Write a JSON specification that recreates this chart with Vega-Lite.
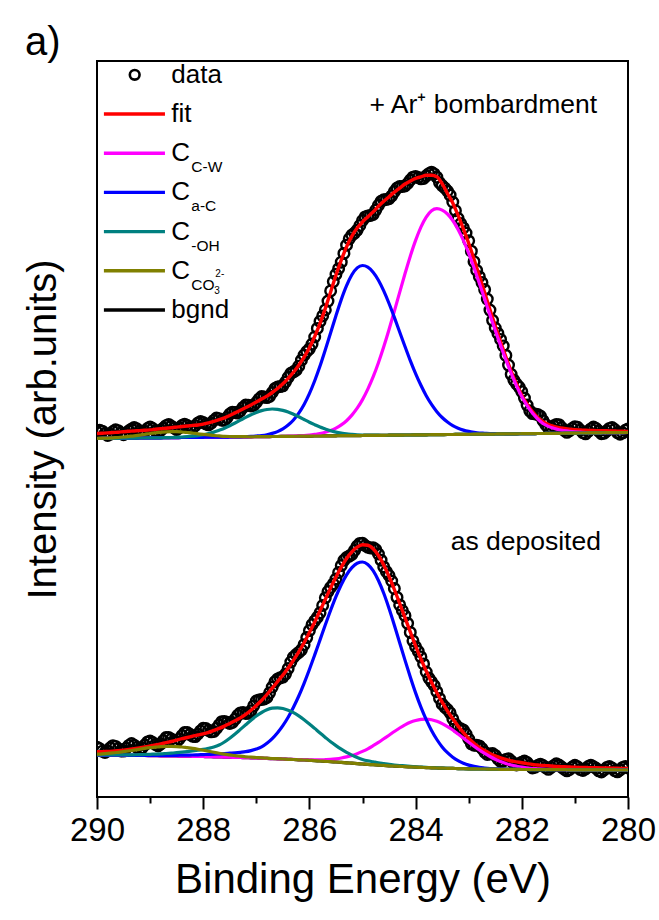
{
"$schema":"https://vega.github.io/schema/vega-lite/v6.json",
"width":531,"height":736,
"autosize":{"type":"none"},
"padding":{"left":97,"top":61,"right":31,"bottom":123},
"background":"white",
"config":{"font":"Liberation Sans","view":{"stroke":"#000000","strokeWidth":2},"axis":{"labelColor":"#000000","titleColor":"#000000","tickColor":"#000000"}},
"title":{"text":"a)","anchor":"start","frame":"group","orient":"top","offset":6,"dx":-72,"dy":40,"fontSize":40,"fontWeight":"normal","color":"#000000","baseline":"alphabetic"},
"datasets":{
"pts":[
{"x":290,"t":365.0,"b":49.8},{"x":289.95,"t":366.7,"b":48.3},{"x":289.9,"t":365.8,"b":45.8},{"x":289.85,"t":363.5,"b":44.5},{"x":289.8,"t":361.6,"b":46.1},{"x":289.75,"t":362.8,"b":49.2},{"x":289.7,"t":365.5,"b":51.3},{"x":289.65,"t":367.2,"b":50.6},{"x":289.6,"t":366.3,"b":48.3},{"x":289.55,"t":364.1,"b":46.1},
{"x":289.5,"t":362.3,"b":45.9},{"x":289.45,"t":363.5,"b":48.8},{"x":289.4,"t":366.2,"b":51.6},{"x":289.35,"t":367.9,"b":53.5},{"x":289.3,"t":369.5,"b":51.8},{"x":289.25,"t":368.2,"b":49.7},{"x":289.2,"t":365.9,"b":47.6},{"x":289.15,"t":364.6,"b":49.1},{"x":289.1,"t":365.7,"b":52.0},{"x":289.05,"t":368.4,"b":55.0},
{"x":289,"t":370.1,"b":56.0},{"x":288.95,"t":368.4,"b":54.5},{"x":288.9,"t":366.2,"b":52.5},{"x":288.85,"t":365.0,"b":51.1},{"x":288.8,"t":366.7,"b":53.1},{"x":288.75,"t":369.0,"b":56.3},{"x":288.7,"t":371.3,"b":59.4},{"x":288.65,"t":372.6,"b":59.5},{"x":288.6,"t":370.8,"b":58.0},{"x":288.55,"t":369.1,"b":56.2},
{"x":288.5,"t":367.4,"b":55.4},{"x":288.45,"t":369.2,"b":58.1},{"x":288.4,"t":371.5,"b":61.3},{"x":288.35,"t":372.8,"b":64.4},{"x":288.3,"t":371.5,"b":64.5},{"x":288.25,"t":369.8,"b":62.7},{"x":288.2,"t":369.1,"b":60.8},{"x":288.15,"t":371.3,"b":60.4},{"x":288.1,"t":374.0,"b":63.0},{"x":288.05,"t":375.5,"b":66.1},
{"x":288,"t":374.4,"b":68.7},{"x":287.95,"t":373.1,"b":68.5},{"x":287.9,"t":372.2,"b":66.7},{"x":287.85,"t":373.9,"b":65.2},{"x":287.8,"t":376.6,"b":65.6},{"x":287.75,"t":379.0,"b":68.6},{"x":287.7,"t":378.3,"b":72.1},{"x":287.65,"t":376.8,"b":75.3},{"x":287.6,"t":376.7,"b":75.4},{"x":287.55,"t":379.4,"b":74.8},
{"x":287.5,"t":383.0,"b":73.6},{"x":287.45,"t":384.8,"b":74.5},{"x":287.4,"t":384.6,"b":77.8},{"x":287.35,"t":383.9,"b":81.7},{"x":287.3,"t":386.2,"b":84.1},{"x":287.25,"t":389.6,"b":84.4},{"x":287.2,"t":391.9,"b":83.6},{"x":287.15,"t":391.8,"b":83.7},{"x":287.1,"t":391.1,"b":86.2},{"x":287.05,"t":391.6,"b":91.1},
{"x":287,"t":394.5,"b":96.0},{"x":286.95,"t":398.0,"b":97.1},{"x":286.9,"t":400.5,"b":97.6},{"x":286.85,"t":400.0,"b":98.1},{"x":286.8,"t":399.4,"b":99.5},{"x":286.75,"t":400.7,"b":104.2},{"x":286.7,"t":404.5,"b":109.9},{"x":286.65,"t":408.5,"b":115.2},{"x":286.6,"t":410.0,"b":117.9},{"x":286.55,"t":410.4,"b":119.2},
{"x":286.5,"t":411.2,"b":119.9},{"x":286.45,"t":415.0,"b":122.9},{"x":286.4,"t":419.7,"b":128.4},{"x":286.35,"t":423.7,"b":134.9},{"x":286.3,"t":425.2,"b":139.8},{"x":286.25,"t":426.8,"b":142.5},{"x":286.2,"t":430.8,"b":144.6},{"x":286.15,"t":436.8,"b":147.2},{"x":286.1,"t":441.8,"b":152.3},{"x":286.05,"t":445.5,"b":159.4},
{"x":286,"t":448.2,"b":166.4},{"x":285.95,"t":452.9,"b":172.3},{"x":285.9,"t":460.0,"b":176.1},{"x":285.85,"t":468.6,"b":179.7},{"x":285.8,"t":475.6,"b":184.2},{"x":285.75,"t":481.1,"b":191.5},{"x":285.7,"t":487.1,"b":199.2},{"x":285.65,"t":495.9,"b":205.4},{"x":285.6,"t":506.1,"b":209.6},{"x":285.55,"t":515.4,"b":213.1},
{"x":285.5,"t":522.7,"b":218.0},{"x":285.45,"t":528.3,"b":224.5},{"x":285.4,"t":534.8,"b":231.4},{"x":285.35,"t":543.6,"b":236.7},{"x":285.3,"t":551.8,"b":239.5},{"x":285.25,"t":558.1,"b":240.9},{"x":285.2,"t":561.9,"b":242.7},{"x":285.15,"t":563.9,"b":246.6},{"x":285.1,"t":566.9,"b":250.9},{"x":285.05,"t":571.5,"b":253.6},
{"x":285,"t":576.5,"b":253.7},{"x":284.95,"t":580.1,"b":251.5},{"x":284.9,"t":581.1,"b":249.8},{"x":284.85,"t":581.6,"b":249.1},{"x":284.8,"t":582.6,"b":249.3},{"x":284.75,"t":586.9,"b":247.4},{"x":284.7,"t":591.7,"b":243.0},{"x":284.65,"t":595.7,"b":236.8},{"x":284.6,"t":597.2,"b":230.1},{"x":284.55,"t":597.5,"b":225.3},
{"x":284.5,"t":598.3,"b":221.5},{"x":284.45,"t":601.1,"b":216.0},{"x":284.4,"t":605.4,"b":208.5},{"x":284.35,"t":608.9,"b":199.6},{"x":284.3,"t":610.4,"b":192.1},{"x":284.25,"t":610.5,"b":186.5},{"x":284.2,"t":611.0,"b":181.3},{"x":284.15,"t":613.5,"b":173.7},{"x":284.1,"t":617.0,"b":164.6},{"x":284.05,"t":619.8,"b":156.2},
{"x":284,"t":620.6,"b":150.2},{"x":283.95,"t":619.4,"b":145.7},{"x":283.9,"t":618.2,"b":140.1},{"x":283.85,"t":618.5,"b":133.1},{"x":283.8,"t":621.2,"b":125.0},{"x":283.75,"t":623.3,"b":118.9},{"x":283.7,"t":624.8,"b":115.2},{"x":283.65,"t":623.1,"b":111.5},{"x":283.6,"t":619.8,"b":105.3},{"x":283.55,"t":614.4,"b":98.6},
{"x":283.5,"t":611.4,"b":92.8},{"x":283.45,"t":609.0,"b":89.9},{"x":283.4,"t":606.0,"b":87.5},{"x":283.35,"t":601.8,"b":84.1},{"x":283.3,"t":595.0,"b":78.2},{"x":283.25,"t":586.3,"b":72.6},{"x":283.2,"t":578.6,"b":69.4},{"x":283.15,"t":573.4,"b":68.2},{"x":283.1,"t":569.1,"b":66.9},{"x":283.05,"t":563.9,"b":63.0},
{"x":283,"t":556.2,"b":58.0},{"x":282.95,"t":545.8,"b":53.2},{"x":282.9,"t":535.3,"b":51.8},{"x":282.85,"t":526.6,"b":51.7},{"x":282.8,"t":520.3,"b":51.1},{"x":282.75,"t":514.4,"b":48.5},{"x":282.7,"t":507.4,"b":44.9},{"x":282.65,"t":497.9,"b":42.5},{"x":282.6,"t":486.9,"b":43.1},{"x":282.55,"t":476.7,"b":43.4},
{"x":282.5,"t":469.0,"b":41.6},{"x":282.45,"t":463.6,"b":38.1},{"x":282.4,"t":457.6,"b":35.6},{"x":282.35,"t":451.1,"b":35.8},{"x":282.3,"t":441.6,"b":37.5},{"x":282.25,"t":431.9,"b":38.3},{"x":282.2,"t":422.7,"b":36.0},{"x":282.15,"t":416.9,"b":33.6},{"x":282.1,"t":413.0,"b":32.1},{"x":282.05,"t":409.9,"b":33.2},
{"x":282,"t":405.3,"b":34.8},{"x":281.95,"t":398.9,"b":35.9},{"x":281.9,"t":391.9,"b":34.4},{"x":281.85,"t":386.2,"b":31.5},{"x":281.8,"t":383.4,"b":29.0},{"x":281.75,"t":383.0,"b":29.8},{"x":281.7,"t":382.5,"b":31.5},{"x":281.65,"t":380.9,"b":32.8},{"x":281.6,"t":376.3,"b":31.5},{"x":281.55,"t":372.4,"b":29.4},
{"x":281.5,"t":369.0,"b":27.7},{"x":281.45,"t":369.6,"b":29.5},{"x":281.4,"t":371.2,"b":31.3},{"x":281.35,"t":372.5,"b":33.2},{"x":281.3,"t":372.3,"b":32.0},{"x":281.25,"t":369.4,"b":29.9},{"x":281.2,"t":366.5,"b":27.8},{"x":281.15,"t":364.7,"b":26.2},{"x":281.1,"t":366.3,"b":27.5},{"x":281.05,"t":368.6,"b":29.9},
{"x":281,"t":370.3,"b":31.7},{"x":280.95,"t":369.7,"b":30.2},{"x":280.9,"t":367.0,"b":27.6},{"x":280.85,"t":364.4,"b":26.6},{"x":280.8,"t":363.2,"b":28.0},{"x":280.75,"t":365.7,"b":30.4},{"x":280.7,"t":368.1,"b":31.8},{"x":280.65,"t":370.0,"b":30.3},{"x":280.6,"t":368.4,"b":28.7},{"x":280.55,"t":365.9,"b":26.2},
{"x":280.5,"t":363.3,"b":25.1},{"x":280.45,"t":363.8,"b":27.1},{"x":280.4,"t":366.2,"b":29.5},{"x":280.35,"t":368.6,"b":30.5},{"x":280.3,"t":369.5,"b":28.9},{"x":280.25,"t":367.5,"b":26.3},{"x":280.2,"t":364.4,"b":25.2},{"x":280.15,"t":362.8,"b":27.2},{"x":280.1,"t":364.2,"b":29.6},{"x":280.05,"t":366.7,"b":30.6},
{"x":280,"t":368.1,"b":29.0}
],
"comp":[
{"p":"t","x":290,"f":363.5,"w":358.5,"a":358.5,"o":358.5,"c":358.6,"g":358.5},
{"p":"t","x":289.9,"f":363.8,"w":358.6,"a":358.6,"o":358.6,"c":358.8,"g":358.6},
{"p":"t","x":289.8,"f":364.1,"w":358.6,"a":358.6,"o":358.6,"c":358.9,"g":358.6},
{"p":"t","x":289.7,"f":364.5,"w":358.7,"a":358.7,"o":358.7,"c":359.2,"g":358.7},
{"p":"t","x":289.6,"f":364.8,"w":358.7,"a":358.7,"o":358.7,"c":359.5,"g":358.7},
{"p":"t","x":289.5,"f":365.3,"w":358.8,"a":358.8,"o":358.8,"c":360.0,"g":358.8},
{"p":"t","x":289.4,"f":365.7,"w":358.9,"a":358.9,"o":358.9,"c":360.6,"g":358.9},
{"p":"t","x":289.3,"f":366.0,"w":358.9,"a":358.9,"o":358.9,"c":361.2,"g":358.9},
{"p":"t","x":289.2,"f":366.4,"w":359.0,"a":359.0,"o":359.0,"c":361.9,"g":359.0},
{"p":"t","x":289.1,"f":366.7,"w":359.0,"a":359.0,"o":359.0,"c":362.6,"g":359.0},
{"p":"t","x":289,"f":367.1,"w":359.1,"a":359.1,"o":359.1,"c":363.5,"g":359.1},
{"p":"t","x":288.9,"f":367.7,"w":359.2,"a":359.2,"o":359.2,"c":364.2,"g":359.2},
{"p":"t","x":288.8,"f":368.2,"w":359.2,"a":359.2,"o":359.2,"c":364.7,"g":359.2},
{"p":"t","x":288.7,"f":368.8,"w":359.3,"a":359.3,"o":359.4,"c":365.2,"g":359.3},
{"p":"t","x":288.6,"f":369.3,"w":359.3,"a":359.3,"o":359.5,"c":365.3,"g":359.3},
{"p":"t","x":288.5,"f":369.9,"w":359.4,"a":359.4,"o":359.7,"c":365.3,"g":359.4},
{"p":"t","x":288.4,"f":370.5,"w":359.5,"a":359.5,"o":360.0,"c":365.0,"g":359.5},
{"p":"t","x":288.3,"f":371.0,"w":359.5,"a":359.5,"o":360.3,"c":364.5,"g":359.5},
{"p":"t","x":288.2,"f":371.6,"w":359.6,"a":359.6,"o":360.8,"c":364.0,"g":359.6},
{"p":"t","x":288.1,"f":372.0,"w":359.6,"a":359.6,"o":361.4,"c":363.2,"g":359.6},
{"p":"t","x":288,"f":372.9,"w":359.7,"a":359.7,"o":362.3,"c":362.6,"g":359.7},
{"p":"t","x":287.9,"f":374.2,"w":359.8,"a":359.8,"o":363.5,"c":362.1,"g":359.8},
{"p":"t","x":287.8,"f":375.6,"w":359.8,"a":359.8,"o":364.9,"c":361.5,"g":359.8},
{"p":"t","x":287.7,"f":377.3,"w":359.9,"a":359.9,"o":366.8,"c":361.1,"g":359.9},
{"p":"t","x":287.6,"f":379.2,"w":359.9,"a":359.9,"o":368.8,"c":360.7,"g":359.9},
{"p":"t","x":287.5,"f":381.5,"w":360.0,"a":360.0,"o":371.3,"c":360.5,"g":360.0},
{"p":"t","x":287.4,"f":384.1,"w":360.1,"a":360.1,"o":374.0,"c":360.4,"g":360.1},
{"p":"t","x":287.3,"f":386.7,"w":360.1,"a":360.2,"o":376.8,"c":360.3,"g":360.1},
{"p":"t","x":287.2,"f":389.4,"w":360.2,"a":360.4,"o":379.6,"c":360.3,"g":360.2},
{"p":"t","x":287.1,"f":392.1,"w":360.2,"a":360.6,"o":382.2,"c":360.2,"g":360.2},
{"p":"t","x":287,"f":395.0,"w":360.3,"a":361.0,"o":384.6,"c":360.3,"g":360.3},
{"p":"t","x":286.9,"f":398.0,"w":360.4,"a":361.5,"o":386.4,"c":360.4,"g":360.4},
{"p":"t","x":286.8,"f":400.9,"w":360.4,"a":362.3,"o":387.5,"c":360.4,"g":360.4},
{"p":"t","x":286.7,"f":404.5,"w":360.5,"a":363.6,"o":388.0,"c":360.5,"g":360.5},
{"p":"t","x":286.6,"f":408.5,"w":360.5,"a":365.4,"o":387.6,"c":360.5,"g":360.5},
{"p":"t","x":286.5,"f":413.2,"w":360.6,"a":368.1,"o":386.6,"c":360.6,"g":360.6},
{"p":"t","x":286.4,"f":418.7,"w":360.8,"a":371.9,"o":385.0,"c":360.7,"g":360.7},
{"p":"t","x":286.3,"f":424.7,"w":360.9,"a":377.0,"o":382.7,"c":360.7,"g":360.7},
{"p":"t","x":286.2,"f":431.8,"w":361.2,"a":383.8,"o":380.2,"c":360.8,"g":360.8},
{"p":"t","x":286.1,"f":439.8,"w":361.4,"a":392.5,"o":377.5,"c":360.8,"g":360.8},
{"p":"t","x":286,"f":449.2,"w":361.9,"a":403.3,"o":374.8,"c":360.9,"g":360.9},
{"p":"t","x":285.9,"f":460.5,"w":362.6,"a":416.2,"o":372.3,"c":361.0,"g":361.0},
{"p":"t","x":285.8,"f":473.6,"w":363.4,"a":430.9,"o":369.9,"c":361.0,"g":361.0},
{"p":"t","x":285.7,"f":488.6,"w":364.7,"a":447.2,"o":368.0,"c":361.1,"g":361.1},
{"p":"t","x":285.6,"f":505.1,"w":366.4,"a":464.2,"o":366.2,"c":361.1,"g":361.1},
{"p":"t","x":285.5,"f":521.7,"w":368.8,"a":481.3,"o":364.9,"c":361.2,"g":361.2},
{"p":"t","x":285.4,"f":536.8,"w":372.1,"a":497.4,"o":363.9,"c":361.3,"g":361.3},
{"p":"t","x":285.3,"f":550.3,"w":376.3,"a":511.3,"o":363.1,"c":361.3,"g":361.3},
{"p":"t","x":285.2,"f":560.9,"w":381.9,"a":522.2,"o":362.6,"c":361.4,"g":361.4},
{"p":"t","x":285.1,"f":568.9,"w":388.8,"a":529.1,"o":362.2,"c":361.4,"g":361.4},
{"p":"t","x":285,"f":575.0,"w":397.4,"a":531.5,"o":362.0,"c":361.5,"g":361.5},
{"p":"t","x":284.9,"f":580.1,"w":407.9,"a":529.9,"o":361.9,"c":361.6,"g":361.6},
{"p":"t","x":284.8,"f":585.1,"w":420.1,"a":524.8,"o":361.8,"c":361.6,"g":361.6},
{"p":"t","x":284.7,"f":590.7,"w":434.3,"a":516.8,"o":361.8,"c":361.7,"g":361.7},
{"p":"t","x":284.6,"f":595.7,"w":450.2,"a":506.1,"o":361.7,"c":361.7,"g":361.7},
{"p":"t","x":284.5,"f":600.3,"w":467.5,"a":493.5,"o":361.8,"c":361.8,"g":361.8},
{"p":"t","x":284.4,"f":604.9,"w":485.9,"a":479.6,"o":361.9,"c":361.9,"g":361.9},
{"p":"t","x":284.3,"f":608.9,"w":504.6,"a":465.0,"o":361.9,"c":361.9,"g":361.9},
{"p":"t","x":284.2,"f":613.0,"w":523.2,"a":450.5,"o":362.0,"c":362.0,"g":362.0},
{"p":"t","x":284.1,"f":616.0,"w":540.8,"a":436.4,"o":362.0,"c":362.0,"g":362.0},
{"p":"t","x":284,"f":618.6,"w":556.6,"a":423.4,"o":362.1,"c":362.1,"g":362.1},
{"p":"t","x":283.9,"f":620.2,"w":569.9,"a":411.7,"o":362.2,"c":362.2,"g":362.2},
{"p":"t","x":283.8,"f":621.7,"w":579.9,"a":401.3,"o":362.2,"c":362.2,"g":362.2},
{"p":"t","x":283.7,"f":621.8,"w":586.2,"a":392.6,"o":362.3,"c":362.3,"g":362.3},
{"p":"t","x":283.6,"f":620.3,"w":588.3,"a":385.3,"o":362.3,"c":362.3,"g":362.3},
{"p":"t","x":283.5,"f":613.4,"w":586.9,"a":379.5,"o":362.4,"c":362.4,"g":362.4},
{"p":"t","x":283.4,"f":603.5,"w":583.0,"a":375.0,"o":362.5,"c":362.5,"g":362.5},
{"p":"t","x":283.3,"f":594.0,"w":576.5,"a":371.4,"o":362.5,"c":362.5,"g":362.5},
{"p":"t","x":283.2,"f":581.6,"w":567.6,"a":368.8,"o":362.6,"c":362.6,"g":362.6},
{"p":"t","x":283.1,"f":568.1,"w":556.6,"a":366.9,"o":362.6,"c":362.6,"g":362.6},
{"p":"t","x":283,"f":553.7,"w":543.7,"a":365.6,"o":362.7,"c":362.7,"g":362.7},
{"p":"t","x":282.9,"f":537.8,"w":529.3,"a":364.7,"o":362.8,"c":362.8,"g":362.8},
{"p":"t","x":282.8,"f":521.3,"w":513.8,"a":364.0,"o":362.8,"c":362.8,"g":362.8},
{"p":"t","x":282.7,"f":504.4,"w":497.9,"a":363.7,"o":362.9,"c":362.9,"g":362.9},
{"p":"t","x":282.6,"f":487.4,"w":481.9,"a":363.4,"o":362.9,"c":362.9,"g":362.9},
{"p":"t","x":282.5,"f":471.0,"w":466.5,"a":363.3,"o":363.0,"c":363.0,"g":363.0},
{"p":"t","x":282.4,"f":455.1,"w":451.6,"a":363.3,"o":363.1,"c":363.1,"g":363.1},
{"p":"t","x":282.3,"f":440.1,"w":437.1,"a":363.2,"o":363.1,"c":363.1,"g":363.1},
{"p":"t","x":282.2,"f":425.7,"w":423.7,"a":363.2,"o":363.2,"c":363.2,"g":363.2},
{"p":"t","x":282.1,"f":413.0,"w":411.2,"a":363.2,"o":363.2,"c":363.2,"g":363.2},
{"p":"t","x":282,"f":401.8,"w":400.3,"a":363.3,"o":363.3,"c":363.3,"g":363.3},
{"p":"t","x":281.9,"f":392.9,"w":391.4,"a":363.4,"o":363.4,"c":363.4,"g":363.4},
{"p":"t","x":281.8,"f":385.4,"w":383.9,"a":363.4,"o":363.4,"c":363.4,"g":363.4},
{"p":"t","x":281.7,"f":379.5,"w":378.0,"a":363.5,"o":363.5,"c":363.5,"g":363.5},
{"p":"t","x":281.6,"f":375.3,"w":373.5,"a":363.5,"o":363.5,"c":363.5,"g":363.5},
{"p":"t","x":281.5,"f":372.5,"w":370.6,"a":363.6,"o":363.6,"c":363.6,"g":363.6},
{"p":"t","x":281.4,"f":370.7,"w":368.7,"a":363.7,"o":363.7,"c":363.7,"g":363.7},
{"p":"t","x":281.3,"f":369.3,"w":367.2,"a":363.7,"o":363.7,"c":363.7,"g":363.7},
{"p":"t","x":281.2,"f":368.5,"w":366.3,"a":363.8,"o":363.8,"c":363.8,"g":363.8},
{"p":"t","x":281.1,"f":367.8,"w":365.6,"a":363.8,"o":363.8,"c":363.8,"g":363.8},
{"p":"t","x":281,"f":367.3,"w":365.1,"a":363.9,"o":363.9,"c":363.9,"g":363.9},
{"p":"t","x":280.9,"f":367.0,"w":364.8,"a":364.0,"o":364.0,"c":364.0,"g":364.0},
{"p":"t","x":280.8,"f":366.7,"w":364.5,"a":364.0,"o":364.0,"c":364.0,"g":364.0},
{"p":"t","x":280.7,"f":366.6,"w":364.4,"a":364.1,"o":364.1,"c":364.1,"g":364.1},
{"p":"t","x":280.6,"f":366.4,"w":364.3,"a":364.1,"o":364.1,"c":364.1,"g":364.1},
{"p":"t","x":280.5,"f":366.3,"w":364.3,"a":364.2,"o":364.2,"c":364.2,"g":364.2},
{"p":"t","x":280.4,"f":366.2,"w":364.3,"a":364.3,"o":364.3,"c":364.3,"g":364.3},
{"p":"t","x":280.3,"f":366.0,"w":364.3,"a":364.3,"o":364.3,"c":364.3,"g":364.3},
{"p":"t","x":280.2,"f":365.9,"w":364.4,"a":364.4,"o":364.4,"c":364.4,"g":364.4},
{"p":"t","x":280.1,"f":365.7,"w":364.4,"a":364.4,"o":364.4,"c":364.4,"g":364.4},
{"p":"t","x":280,"f":365.6,"w":364.5,"a":364.5,"o":364.5,"c":364.5,"g":364.5},
{"p":"b","x":290,"f":45.3,"w":42.0,"a":42.0,"o":42.1,"c":42.9,"g":42.0},
{"p":"b","x":289.9,"f":45.3,"w":41.9,"a":41.9,"o":42.0,"c":43.2,"g":41.9},
{"p":"b","x":289.8,"f":45.6,"w":41.9,"a":41.9,"o":42.1,"c":43.6,"g":41.9},
{"p":"b","x":289.7,"f":45.8,"w":41.8,"a":41.8,"o":42.0,"c":44.1,"g":41.8},
{"p":"b","x":289.6,"f":46.3,"w":41.8,"a":41.8,"o":42.1,"c":44.7,"g":41.8},
{"p":"b","x":289.5,"f":46.9,"w":41.7,"a":41.8,"o":42.1,"c":45.3,"g":41.7},
{"p":"b","x":289.4,"f":47.6,"w":41.6,"a":41.7,"o":42.1,"c":46.1,"g":41.6},
{"p":"b","x":289.3,"f":48.3,"w":41.6,"a":41.7,"o":42.2,"c":46.9,"g":41.6},
{"p":"b","x":289.2,"f":49.1,"w":41.5,"a":41.6,"o":42.3,"c":47.7,"g":41.5},
{"p":"b","x":289.1,"f":50.0,"w":41.5,"a":41.6,"o":42.5,"c":48.6,"g":41.5},
{"p":"b","x":289,"f":51.0,"w":41.4,"a":41.6,"o":42.7,"c":49.3,"g":41.4},
{"p":"b","x":288.9,"f":52.0,"w":41.3,"a":41.6,"o":42.9,"c":49.8,"g":41.3},
{"p":"b","x":288.8,"f":53.1,"w":41.2,"a":41.6,"o":43.1,"c":50.3,"g":41.2},
{"p":"b","x":288.7,"f":54.4,"w":41.2,"a":41.7,"o":43.5,"c":50.6,"g":41.2},
{"p":"b","x":288.6,"f":55.5,"w":41.1,"a":41.7,"o":43.9,"c":50.6,"g":41.1},
{"p":"b","x":288.5,"f":56.9,"w":41.0,"a":41.7,"o":44.3,"c":50.4,"g":41.0},
{"p":"b","x":288.4,"f":58.3,"w":40.9,"a":41.8,"o":44.8,"c":50.0,"g":40.9},
{"p":"b","x":288.3,"f":59.5,"w":40.8,"a":41.9,"o":45.4,"c":49.3,"g":40.8},
{"p":"b","x":288.2,"f":60.8,"w":40.7,"a":42.0,"o":46.1,"c":48.6,"g":40.7},
{"p":"b","x":288.1,"f":62.0,"w":40.6,"a":42.2,"o":46.8,"c":47.7,"g":40.6},
{"p":"b","x":288,"f":63.2,"w":40.5,"a":42.4,"o":47.6,"c":46.7,"g":40.5},
{"p":"b","x":287.9,"f":64.7,"w":40.4,"a":42.6,"o":48.7,"c":45.7,"g":40.4},
{"p":"b","x":287.8,"f":66.6,"w":40.2,"a":42.8,"o":50.0,"c":44.7,"g":40.2},
{"p":"b","x":287.7,"f":68.6,"w":40.1,"a":43.1,"o":52.0,"c":43.7,"g":40.1},
{"p":"b","x":287.6,"f":70.9,"w":39.9,"a":43.4,"o":55.0,"c":42.8,"g":39.9},
{"p":"b","x":287.5,"f":73.6,"w":39.8,"a":43.8,"o":58.8,"c":42.1,"g":39.8},
{"p":"b","x":287.4,"f":76.3,"w":39.6,"a":44.2,"o":63.0,"c":41.3,"g":39.6},
{"p":"b","x":287.3,"f":79.1,"w":39.5,"a":44.7,"o":67.6,"c":40.8,"g":39.5},
{"p":"b","x":287.2,"f":82.6,"w":39.3,"a":45.3,"o":72.2,"c":40.2,"g":39.3},
{"p":"b","x":287.1,"f":86.7,"w":39.2,"a":46.4,"o":76.8,"c":39.9,"g":39.2},
{"p":"b","x":287,"f":91.5,"w":39.0,"a":48.0,"o":81.0,"c":39.5,"g":39.0},
{"p":"b","x":286.9,"f":96.6,"w":38.8,"a":50.1,"o":84.5,"c":39.1,"g":38.8},
{"p":"b","x":286.8,"f":102.5,"w":38.6,"a":53.7,"o":87.2,"c":38.8,"g":38.6},
{"p":"b","x":286.7,"f":108.9,"w":38.4,"a":58.4,"o":88.8,"c":38.5,"g":38.4},
{"p":"b","x":286.6,"f":115.4,"w":38.2,"a":64.3,"o":89.2,"c":38.3,"g":38.2},
{"p":"b","x":286.5,"f":121.9,"w":38.0,"a":71.4,"o":88.5,"c":38.0,"g":38.0},
{"p":"b","x":286.4,"f":128.9,"w":37.7,"a":79.8,"o":86.8,"c":37.7,"g":37.7},
{"p":"b","x":286.3,"f":136.8,"w":37.6,"a":89.8,"o":84.4,"c":37.5,"g":37.5},
{"p":"b","x":286.2,"f":145.1,"w":37.4,"a":101.0,"o":81.1,"c":37.2,"g":37.2},
{"p":"b","x":286.1,"f":154.3,"w":37.3,"a":113.7,"o":77.3,"c":37.0,"g":37.0},
{"p":"b","x":286,"f":164.4,"w":37.2,"a":127.5,"o":73.1,"c":36.7,"g":36.7},
{"p":"b","x":285.9,"f":175.1,"w":37.2,"a":142.1,"o":68.6,"c":36.4,"g":36.4},
{"p":"b","x":285.8,"f":186.2,"w":37.1,"a":157.1,"o":64.0,"c":36.0,"g":36.0},
{"p":"b","x":285.7,"f":197.7,"w":37.3,"a":172.2,"o":59.6,"c":35.7,"g":35.7},
{"p":"b","x":285.6,"f":209.1,"w":37.6,"a":186.8,"o":55.3,"c":35.3,"g":35.3},
{"p":"b","x":285.5,"f":220.0,"w":38.2,"a":200.4,"o":51.4,"c":35.0,"g":35.0},
{"p":"b","x":285.4,"f":229.9,"w":39.0,"a":212.3,"o":47.8,"c":34.6,"g":34.6},
{"p":"b","x":285.3,"f":238.5,"w":40.1,"a":222.2,"o":44.6,"c":34.2,"g":34.2},
{"p":"b","x":285.2,"f":245.2,"w":41.5,"a":229.4,"o":41.9,"c":33.8,"g":33.8},
{"p":"b","x":285.1,"f":249.9,"w":43.3,"a":233.8,"o":39.6,"c":33.4,"g":33.4},
{"p":"b","x":285,"f":252.2,"w":45.6,"a":235.0,"o":37.6,"c":33.0,"g":33.0},
{"p":"b","x":284.9,"f":251.8,"w":48.2,"a":232.6,"o":36.2,"c":32.6,"g":32.6},
{"p":"b","x":284.8,"f":248.3,"w":51.3,"a":226.4,"o":35.2,"c":32.3,"g":32.3},
{"p":"b","x":284.7,"f":241.5,"w":54.6,"a":216.5,"o":34.2,"c":31.9,"g":31.9},
{"p":"b","x":284.6,"f":232.1,"w":58.2,"a":203.7,"o":33.4,"c":31.6,"g":31.6},
{"p":"b","x":284.5,"f":220.5,"w":61.8,"a":188.5,"o":32.6,"c":31.2,"g":31.2},
{"p":"b","x":284.4,"f":207.5,"w":65.5,"a":171.8,"o":32.0,"c":30.9,"g":30.9},
{"p":"b","x":284.3,"f":193.6,"w":69.0,"a":154.3,"o":31.5,"c":30.6,"g":30.6},
{"p":"b","x":284.2,"f":179.3,"w":72.1,"a":136.9,"o":31.1,"c":30.4,"g":30.4},
{"p":"b","x":284.1,"f":165.1,"w":74.7,"a":120.0,"o":30.6,"c":30.1,"g":30.1},
{"p":"b","x":284,"f":151.2,"w":76.5,"a":104.1,"o":30.2,"c":29.8,"g":29.8},
{"p":"b","x":283.9,"f":138.1,"w":77.6,"a":89.8,"o":29.9,"c":29.6,"g":29.6},
{"p":"b","x":283.8,"f":126.0,"w":77.9,"a":77.3,"o":29.6,"c":29.4,"g":29.4},
{"p":"b","x":283.7,"f":114.7,"w":77.2,"a":66.5,"o":29.4,"c":29.2,"g":29.2},
{"p":"b","x":283.6,"f":104.3,"w":75.7,"a":57.5,"o":29.1,"c":29.0,"g":29.0},
{"p":"b","x":283.5,"f":94.8,"w":73.4,"a":50.1,"o":28.9,"c":28.8,"g":28.8},
{"p":"b","x":283.4,"f":86.0,"w":70.4,"a":44.3,"o":28.7,"c":28.7,"g":28.7},
{"p":"b","x":283.3,"f":78.2,"w":67.0,"a":39.8,"o":28.6,"c":28.6,"g":28.6},
{"p":"b","x":283.2,"f":70.9,"w":63.0,"a":36.3,"o":28.4,"c":28.4,"g":28.4},
{"p":"b","x":283.1,"f":64.4,"w":58.9,"a":33.8,"o":28.3,"c":28.3,"g":28.3},
{"p":"b","x":283,"f":58.5,"w":54.8,"a":31.9,"o":28.2,"c":28.2,"g":28.2},
{"p":"b","x":282.9,"f":53.8,"w":50.8,"a":30.6,"o":28.1,"c":28.1,"g":28.1},
{"p":"b","x":282.8,"f":49.6,"w":47.0,"a":29.6,"o":28.0,"c":28.0,"g":28.0},
{"p":"b","x":282.7,"f":46.4,"w":43.6,"a":29.0,"o":28.0,"c":28.0,"g":28.0},
{"p":"b","x":282.6,"f":43.6,"w":40.5,"a":28.5,"o":27.9,"c":27.9,"g":27.9},
{"p":"b","x":282.5,"f":41.1,"w":37.7,"a":28.2,"o":27.8,"c":27.8,"g":27.8},
{"p":"b","x":282.4,"f":39.1,"w":35.4,"a":27.9,"o":27.7,"c":27.7,"g":27.7},
{"p":"b","x":282.3,"f":37.5,"w":33.6,"a":27.8,"o":27.7,"c":27.7,"g":27.7},
{"p":"b","x":282.2,"f":36.0,"w":32.0,"a":27.6,"o":27.6,"c":27.6,"g":27.6},
{"p":"b","x":282.1,"f":35.1,"w":30.8,"a":27.6,"o":27.6,"c":27.6,"g":27.6},
{"p":"b","x":282,"f":34.3,"w":29.8,"a":27.5,"o":27.5,"c":27.5,"g":27.5},
{"p":"b","x":281.9,"f":33.4,"w":29.1,"a":27.5,"o":27.5,"c":27.5,"g":27.5},
{"p":"b","x":281.8,"f":32.5,"w":28.5,"a":27.4,"o":27.4,"c":27.4,"g":27.4},
{"p":"b","x":281.7,"f":32.0,"w":28.2,"a":27.4,"o":27.4,"c":27.4,"g":27.4},
{"p":"b","x":281.6,"f":31.5,"w":27.9,"a":27.4,"o":27.4,"c":27.4,"g":27.4},
{"p":"b","x":281.5,"f":31.2,"w":27.7,"a":27.4,"o":27.4,"c":27.4,"g":27.4},
{"p":"b","x":281.4,"f":30.8,"w":27.5,"a":27.3,"o":27.3,"c":27.3,"g":27.3},
{"p":"b","x":281.3,"f":30.5,"w":27.4,"a":27.3,"o":27.3,"c":27.3,"g":27.3},
{"p":"b","x":281.2,"f":30.3,"w":27.3,"a":27.3,"o":27.3,"c":27.3,"g":27.3},
{"p":"b","x":281.1,"f":30.0,"w":27.2,"a":27.2,"o":27.2,"c":27.2,"g":27.2},
{"p":"b","x":281,"f":29.7,"w":27.2,"a":27.2,"o":27.2,"c":27.2,"g":27.2},
{"p":"b","x":280.9,"f":29.6,"w":27.2,"a":27.2,"o":27.2,"c":27.2,"g":27.2},
{"p":"b","x":280.8,"f":29.5,"w":27.2,"a":27.2,"o":27.2,"c":27.2,"g":27.2},
{"p":"b","x":280.7,"f":29.3,"w":27.1,"a":27.1,"o":27.1,"c":27.1,"g":27.1},
{"p":"b","x":280.6,"f":29.2,"w":27.1,"a":27.1,"o":27.1,"c":27.1,"g":27.1},
{"p":"b","x":280.5,"f":29.1,"w":27.1,"a":27.1,"o":27.1,"c":27.1,"g":27.1},
{"p":"b","x":280.4,"f":29.0,"w":27.1,"a":27.1,"o":27.1,"c":27.1,"g":27.1},
{"p":"b","x":280.3,"f":28.9,"w":27.1,"a":27.1,"o":27.1,"c":27.1,"g":27.1},
{"p":"b","x":280.2,"f":28.7,"w":27.0,"a":27.0,"o":27.0,"c":27.0,"g":27.0},
{"p":"b","x":280.1,"f":28.6,"w":27.0,"a":27.0,"o":27.0,"c":27.0,"g":27.0},
{"p":"b","x":280,"f":28.5,"w":27.0,"a":27.0,"o":27.0,"c":27.0,"g":27.0}
]
},
"layer":[
{"layer":[
 {"data":{"name":"pts"},"transform":[{"fold":["t","b"],"as":["p","v"]}],
  "mark":{"type":"point","shape":"circle","filled":false,"stroke":"#000000","strokeWidth":2.4,"size":112,"opacity":1,"strokeOpacity":1,"clip":true},
  "encoding":{
   "x":{"field":"x","type":"quantitative","scale":{"domain":[280,290],"reverse":true,"nice":false,"zero":false},
    "axis":{"title":"Binding Energy (eV)","values":[280,281,282,283,284,285,286,287,288,289,290],"labelExpr":"datum.value % 2 === 0 ? datum.label : ''","tickSize":{"condition":{"test":"datum.value % 2 !== 0","value":6},"value":12},"tickWidth":2,"tickColor":"#000000","domain":false,"grid":false,"labelFontSize":33,"labelColor":"#000000","labelPadding":5,"labelFlush":false,"labelOverlap":false,"titleFontSize":42,"titleFontWeight":"normal","titleColor":"#000000","titlePadding":12}},
   "y":{"field":"v","type":"quantitative","scale":{"domain":[0,736],"nice":false,"zero":false},
    "axis":{"title":"Intensity (arb.units)","labels":false,"ticks":false,"domain":false,"grid":false,"minExtent":0,"titleFontSize":40,"titleFontWeight":"normal","titleColor":"#000000","titlePadding":34}}}},
 {"data":{"name":"comp"},"mark":{"type":"line","color":"#000000","strokeWidth":3.2,"clip":true,"interpolate":"monotone"},
  "encoding":{"x":{"field":"x","type":"quantitative"},"y":{"field":"g","type":"quantitative"},"detail":{"field":"p","type":"nominal"}}},
 {"data":{"name":"comp"},"mark":{"type":"line","color":"#ff0000","strokeWidth":3.4,"clip":true,"interpolate":"monotone"},
  "encoding":{"x":{"field":"x","type":"quantitative"},"y":{"field":"f","type":"quantitative"},"detail":{"field":"p","type":"nominal"}}},
 {"data":{"name":"comp"},"mark":{"type":"line","color":"#ff00ff","strokeWidth":3.2,"clip":true,"interpolate":"monotone"},
  "encoding":{"x":{"field":"x","type":"quantitative"},"y":{"field":"w","type":"quantitative"},"detail":{"field":"p","type":"nominal"}}},
 {"data":{"name":"comp"},"mark":{"type":"line","color":"#0000ff","strokeWidth":3.2,"clip":true,"interpolate":"monotone"},
  "encoding":{"x":{"field":"x","type":"quantitative"},"y":{"field":"a","type":"quantitative"},"detail":{"field":"p","type":"nominal"}}},
 {"data":{"name":"comp"},"mark":{"type":"line","color":"#008080","strokeWidth":3.2,"clip":true,"interpolate":"monotone"},
  "encoding":{"x":{"field":"x","type":"quantitative"},"y":{"field":"o","type":"quantitative"},"detail":{"field":"p","type":"nominal"}}},
 {"data":{"name":"comp"},"mark":{"type":"line","color":"#808000","strokeWidth":3.2,"clip":true,"interpolate":"monotone"},
  "encoding":{"x":{"field":"x","type":"quantitative"},"y":{"field":"c","type":"quantitative"},"detail":{"field":"p","type":"nominal"}}},
 {"data":{"values":[{"t":"+ Ar⁺ bombardment"}]},"mark":{"type":"text","align":"right","baseline":"alphabetic","fontSize":26.5,"color":"#000000"},
  "encoding":{"x":{"datum":280.58,"type":"quantitative"},"y":{"datum":684,"type":"quantitative"},"text":{"field":"t"}}},
 {"data":{"values":[{"t":"as deposited"}]},"mark":{"type":"text","align":"right","baseline":"alphabetic","fontSize":26.5,"color":"#000000"},
  "encoding":{"x":{"datum":280.51,"type":"quantitative"},"y":{"datum":247,"type":"quantitative"},"text":{"field":"t"}}}
]},
{"layer":[
 {"data":{"values":[{"n":2,"k":"fit"},{"n":3,"k":"w"},{"n":4,"k":"a"},{"n":5,"k":"o"},{"n":6,"k":"c"},{"n":7,"k":"g"}]},
  "mark":{"type":"rule","strokeWidth":3.4},
  "encoding":{"x":{"datum":289.87,"type":"quantitative"},"x2":{"datum":288.72},
   "y":{"field":"n","type":"quantitative","scale":{"domain":[0.648,19.424],"reverse":true,"nice":false,"zero":false},"axis":null},
   "color":{"field":"k","type":"nominal","scale":{"domain":["fit","w","a","o","c","g"],"range":["#ff0000","#ff00ff","#0000ff","#008080","#808000","#000000"]},"legend":null}}},
 {"data":{"values":[{"n":1}]},
  "mark":{"type":"point","shape":"circle","filled":false,"stroke":"#000000","strokeWidth":2.6,"size":95,"opacity":1,"strokeOpacity":1},
  "encoding":{"x":{"datum":289.29,"type":"quantitative"},"y":{"field":"n","type":"quantitative","scale":{"domain":[0.648,19.424],"reverse":true,"nice":false,"zero":false},"axis":null}}},
 {"data":{"values":[{"n":1,"t":"data"},{"n":2,"t":"fit"},{"n":3,"t":"C"},{"n":4,"t":"C"},{"n":5,"t":"C"},{"n":6,"t":"C"},{"n":7,"t":"bgnd"}]},
  "mark":{"type":"text","align":"left","baseline":"middle","fontSize":26,"color":"#000000"},
  "encoding":{"x":{"datum":288.6,"type":"quantitative"},"y":{"field":"n","type":"quantitative","scale":{"domain":[0.648,19.424],"reverse":true,"nice":false,"zero":false},"axis":null},"text":{"field":"t"}}},
 {"data":{"values":[{"n":3,"t":"C-W"},{"n":4,"t":"a-C"},{"n":5,"t":"-OH"},{"n":6,"t":"CO"}]},
  "mark":{"type":"text","align":"left","baseline":"alphabetic","fontSize":15.5,"dx":20,"dy":19,"color":"#000000"},
  "encoding":{"x":{"datum":288.6,"type":"quantitative"},"y":{"field":"n","type":"quantitative","scale":{"domain":[0.648,19.424],"reverse":true,"nice":false,"zero":false},"axis":null},"text":{"field":"t"}}},
 {"data":{"values":[{"n":6,"t":"3"}]},
  "mark":{"type":"text","align":"left","baseline":"alphabetic","fontSize":10,"dx":43,"dy":23,"color":"#000000"},
  "encoding":{"x":{"datum":288.6,"type":"quantitative"},"y":{"field":"n","type":"quantitative","scale":{"domain":[0.648,19.424],"reverse":true,"nice":false,"zero":false},"axis":null},"text":{"field":"t"}}},
 {"data":{"values":[{"n":6,"t":"2-"}]},
  "mark":{"type":"text","align":"left","baseline":"alphabetic","fontSize":10,"dx":44,"dy":6,"color":"#000000"},
  "encoding":{"x":{"datum":288.6,"type":"quantitative"},"y":{"field":"n","type":"quantitative","scale":{"domain":[0.648,19.424],"reverse":true,"nice":false,"zero":false},"axis":null},"text":{"field":"t"}}}
]}
],
"resolve":{"scale":{"y":"independent"}}
}
